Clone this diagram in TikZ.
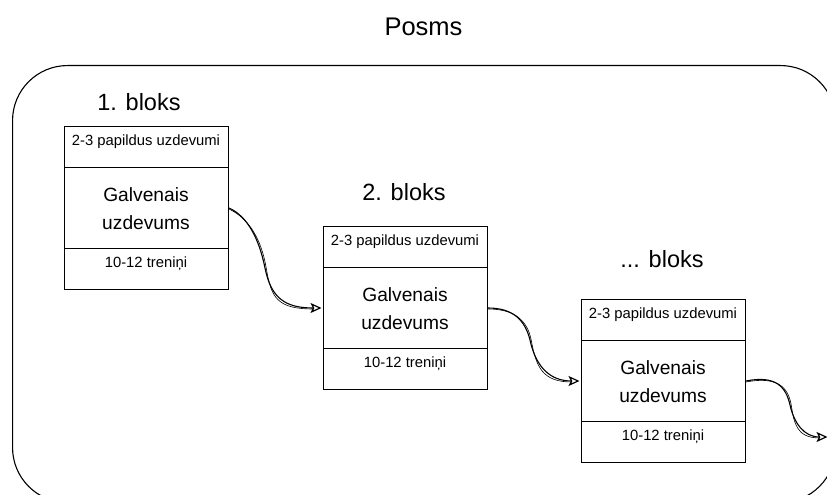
\documentclass[tikz,border=0pt]{standalone}
\usepackage{fontspec}
\setmainfont{Liberation Sans}
\usetikzlibrary{arrows.meta}
\begin{document}
\begin{tikzpicture}[x=1pt,y=-1pt,
  section/.style={draw, line width=1pt, minimum width=164pt, minimum height=#1,
    inner sep=0pt, anchor=north west},
  frame/.style={draw, line width=1.1pt, rounded corners=55pt, inner sep=0pt,
    anchor=north west, minimum width=823pt, minimum height=437pt},
  smalltext/.style={anchor=base, inner sep=0pt, font=\fontsize{14.8}{17}\selectfont},
  maintext/.style={anchor=base, inner sep=0pt, font=\fontsize{19.2}{23}\selectfont},
  titletext/.style={anchor=base, inner sep=0pt, font=\fontsize{23.5}{28}\selectfont},
  headtext/.style={anchor=base, inner sep=0pt, font=\fontsize{25.5}{30}\selectfont},
  conn/.style={line width=1.1pt, shorten >=1.5pt,
    -{Stealth[open, length=11pt, width=10pt, inset=2.5pt, line width=1.2pt]}},
  connsketch/.style={line width=0.6pt}]
\useasboundingbox (0,0) rectangle (827,495);
\begin{scope}
\clip (0,0) rectangle (827,495);

% outer stage frame (runs past the right and bottom edges)
\node[frame] (stage) at (12,65) {};
\node[headtext] (stagetitle) at (423.5,36) {Posms};

% three blocks: header, main task, footer
\foreach \i/\x/\y in {1/64/126, 2/323/226, 3/581/299} {
  \node[section=41pt] (h\i) at (\x,\y) {};
  \node[section=81pt] (m\i) at (\x,\y+41) {};
  \node[section=41pt] (f\i) at (\x,\y+122) {};
  \node[smalltext] (ht\i) at (\x+82,\y+19) {2-3 papildus uzdevumi};
  \node[maintext] (ma\i) at (\x+82,\y+75) {Galvenais};
  \node[maintext] (mb\i) at (\x+82,\y+103) {uzdevums};
  \node[smalltext] (ft\i) at (\x+82,\y+141) {10-12 treniņi};
}

\node[titletext] (t1) at (139,110) {1. bloks};
\node[titletext] (t2) at (404,200) {2. bloks};
\node[titletext] (t3) at (662,267) {... bloks};

% bend points of the connectors and the free end of the last one
\coordinate (bend1) at (265,268);
\coordinate (bend2) at (530,340);
\coordinate (bend3) at (790,405);
\coordinate (out3) at (829,437);

% connectors between the main tasks
\draw[conn] (m1.east) .. controls +(18,8) and +(-6,-30) .. (bend1)
  .. controls +(6,30) and +(-38,0) .. (m2.west);
\draw[connsketch] ([yshift=-1pt]m1.east) .. controls +(19,9) and +(-5,-30) .. ([xshift=1.2pt]bend1)
  .. controls +(5,30) and +(-37,0) .. ([xshift=-9pt,yshift=-1pt]m2.west);

\draw[conn] (m2.east) .. controls +(25,0) and +(-5,-20) .. (bend2)
  .. controls +(6,28) and +(-30,0) .. (m3.west);
\draw[connsketch] ([yshift=-1pt]m2.east) .. controls +(26,0) and +(-4,-20) .. ([xshift=1.2pt]bend2)
  .. controls +(5,28) and +(-29,0) .. ([xshift=-9pt,yshift=-1pt]m3.west);

\draw[conn] (m3.east) .. controls +(30,-6) and +(-4,-18) .. (bend3)
  .. controls +(4,18) and +(-25,0) .. (out3);
\draw[connsketch] ([yshift=-1pt]m3.east) .. controls +(31,-6) and +(-3,-18) .. ([xshift=1.2pt]bend3)
  .. controls +(3,18) and +(-24,0) .. ([xshift=-9pt,yshift=-1pt]out3);
\end{scope}
\end{tikzpicture}
\end{document}
